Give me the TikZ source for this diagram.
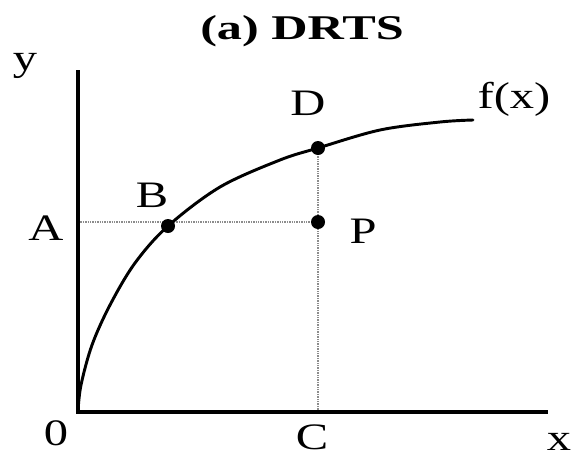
\documentclass[tikz,border=0pt]{standalone}
\usepackage{fontspec}
\setmainfont{Liberation Serif}[FakeStretch=1.3]
\newfontfamily\titlefont{Liberation Serif}[FakeStretch=1.45]
\usepackage{tikz}
\definecolor{guidegray}{HTML}{8C8C8C}

\begin{document}
\begin{tikzpicture}[x=0.75pt,y=-0.75pt,
  lbl/.style={anchor=base,inner sep=0pt,font=\fontsize{28}{30}\selectfont},
  dot/.style={circle,fill=black,inner sep=0pt,minimum size=10.5pt},
  guide/.style={guidegray,line width=1.1pt,dash pattern=on 1pt off 0.8pt},
  axis/.style={line width=3.4pt},
  curve/.style={line width=2.2pt,line cap=round}]
  \useasboundingbox (0,0) rectangle (577,457);
  % axes
  \coordinate (O) at (78,412);
  \coordinate (ytop) at (78,70);
  \coordinate (xend) at (548,412);
  % points on the graph
  \coordinate (a) at (78,222);
  \coordinate (b) at (168,226);
  \coordinate (c) at (318,412);
  \coordinate (d) at (318,148);
  \coordinate (p) at (318,222);
  \draw[guide] (a) -- (p);
  \draw[guide] (c) -- (d);
  \draw[axis] (ytop) -- (O) -- (xend);
  \draw[curve] plot[smooth,tension=0.55] coordinates
    {(78,411) (81,385) (92,345) (110,305) (135,263) (b) (220,187)
     (280,160) (d) (380,130) (440,122) (473,120)};
  \node[dot] (B) at (b) {};
  \node[dot] (D) at (d) {};
  \node[dot] (P) at (p) {};
  % labels
  \node[anchor=base,inner sep=0pt,font=\titlefont\bfseries\fontsize{26}{28}\selectfont]
    (title) at (302,39) {(a) DRTS};
  \node[lbl] (ylab) at (25,70) {y};
  \node[lbl] (xlab) at (559,450) {x};
  \node[lbl] (zero) at (56,445) {0};
  \node[lbl] (Alab) at (46,240) {A};
  \node[lbl] (Blab) at (152,207) {B};
  \node[lbl] (Clab) at (312,449) {C};
  \node[lbl] (Dlab) at (308,115) {D};
  \node[lbl] (Plab) at (363,243) {P};
  \node[lbl] (flab) at (514,108) {f(x)};
\end{tikzpicture}
\end{document}
